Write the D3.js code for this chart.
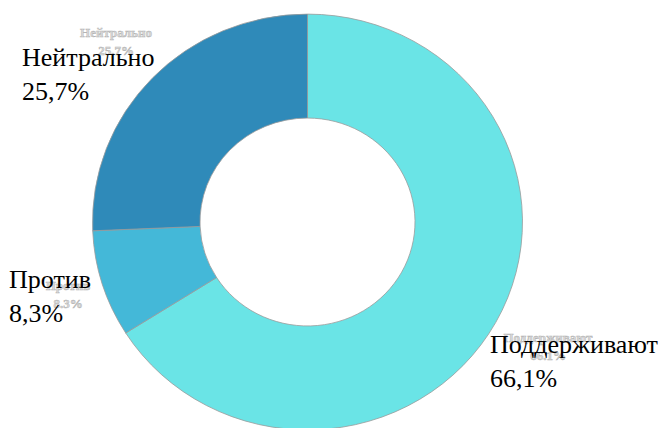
<!DOCTYPE html>
<html>
<head>
<meta charset="utf-8">
<script src="https://cdn.jsdelivr.net/npm/d3@7"></script>
<style>
    body { margin: 0; background: #fff; }
    svg { display: block; }
    text { font-family: 'Liberation Serif', 'Times New Roman', 'DejaVu Serif', serif; }
</style>
</head>
<body>
<svg id="chart"></svg>
<script>
const categories = ['Поддерживают', 'Против', 'Нейтрально'];
const values = [66.1, 8.3, 25.7];
const labelsBig = ['66,1%', '8,3%', '25,7%'];
const labelsSmall = ['66.1%', '8.3%', '25.7%'];
const colors = ['#6ae4e6', '#44b8d8', '#2f8ab9'];

const width = 665;
const height = 428;
const cx = 307.5;
const cy = 222;
const outerR = 215;
const innerR = 107.5;
const squash = 0.967;

// where the labels sit (black ones left-aligned, grey ones centred)
const bigPos = [[490, 353], [9, 288], [22, 66]];
const smallPos = [[548, 342], [68, 290], [116, 37]];
const lineGap = 34;
const smallGap = 18;

const svg = d3.select('#chart')
    .attr('width', width)
    .attr('height', height);

const pie = d3.pie()
    .sort(null)
    .value(d => d);

const arc = d3.arc()
    .innerRadius(innerR)
    .outerRadius(outerR);

const arcs = pie(values);

svg.append('g')
    .attr('transform', `translate(${cx}, ${cy}) scale(1, ${squash})`)
    .selectAll('path')
    .data(arcs)
    .enter()
    .append('path')
    .attr('d', arc)
    .attr('fill', (d, i) => colors[i])
    .attr('stroke', '#9a9a9a')
    .attr('stroke-width', 0.8)
    .attr('vector-effect', 'non-scaling-stroke');

// faint default labels underneath
const faint = svg.append('g')
    .attr('font-size', 13)
    .attr('font-weight', 'bold')
    .attr('text-anchor', 'middle')
    .attr('fill', '#dadada')
    .attr('stroke', '#b4b4b4')
    .attr('stroke-width', 0.5);

categories.forEach((c, i) => {
    const [x, y] = smallPos[i];
    faint.append('text').attr('x', x).attr('y', y).text(c);
    faint.append('text').attr('x', x).attr('y', y + smallGap).text(labelsSmall[i]);
});

const big = svg.append('g')
    .attr('font-size', 26)
    .attr('fill', '#000');

categories.forEach((c, i) => {
    const [x, y] = bigPos[i];
    big.append('text').attr('x', x).attr('y', y).text(c);
    big.append('text').attr('x', x).attr('y', y + lineGap).text(labelsBig[i]);
});
</script>
</body>
</html>
